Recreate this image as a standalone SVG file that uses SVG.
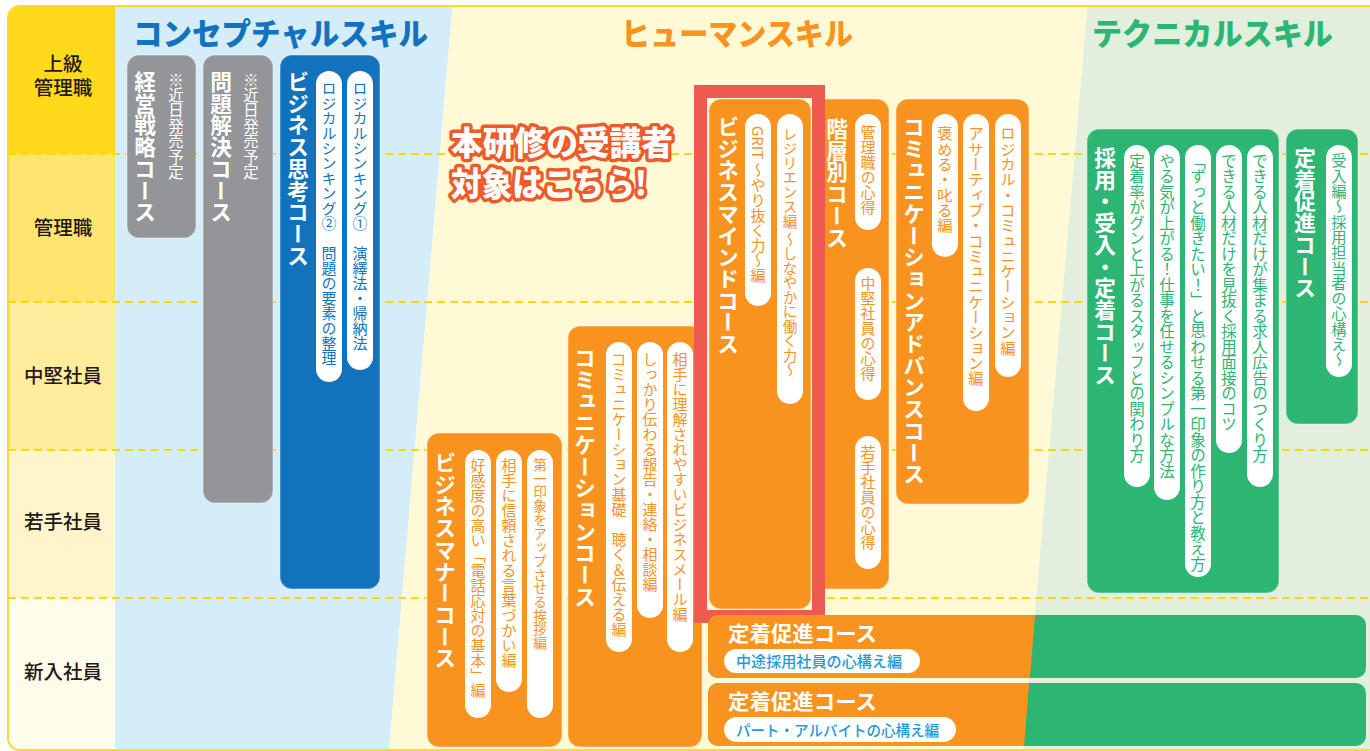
<svg xmlns="http://www.w3.org/2000/svg" width="1370" height="751" viewBox="0 0 1370 751">
<defs>
<style>
text{font-family:"Noto Sans CJK JP","Noto Sans CJK SC",sans-serif}
.v{writing-mode:vertical-rl}
.t{font-size:21.7px;font-weight:700;fill:#fff}
.note{font-size:15.4px;fill:#fff}
.pill{fill:#fff}
.po{fill:#F7931E;font-size:15px}
.pb{fill:#1273BC;font-size:15px}
.pg{fill:#2DB573;font-size:15.5px}
.gray{fill:#939598}
.blue{fill:#1273BC}
.orange{fill:#F7931E}
.green{fill:#2DB573}
.box{stroke:#ffffff;stroke-opacity:0.3;stroke-width:1.5}
.row{font-size:19.5px;font-weight:500;fill:#231815;text-anchor:middle}
.head{font-size:31px;font-weight:900}
.dash{stroke:#FFD800;stroke-width:2;stroke-dasharray:8 5;fill:none}
.bt{font-size:21px;font-weight:700;fill:#fff}
.bp{font-size:15px;fill:#1D9BD7;font-weight:500}
.call{font-size:33px;font-weight:900;fill:#fff;stroke:#EF5A2A;stroke-width:7;stroke-linejoin:round;paint-order:stroke}
</style>
<clipPath id="frame"><rect x="8" y="6" width="1400" height="744" rx="12"/></clipPath>
<clipPath id="bar1"><rect x="708" y="615" width="658" height="63" rx="10"/></clipPath>
<clipPath id="bar2"><rect x="708" y="683" width="658" height="63" rx="10"/></clipPath>
</defs>
<rect width="1370" height="751" fill="#fff"/>
<g id="background" clip-path="url(#frame)">
<polygon points="115,0 453,0 389,751 115,751" fill="#D5ECF9"/>
<polygon points="453,0 1088,0 1023,751 389,751" fill="#FFF9D5"/>
<polygon points="1088,0 1370,0 1370,751 1023,751" fill="#E2EFDC"/>
<rect x="8" y="6" width="107" height="148" fill="#FFDA1C"/>
<rect x="8" y="154" width="107" height="148" fill="#FFE56F"/>
<rect x="8" y="302" width="107" height="148" fill="#FFEC9C"/>
<rect x="8" y="450" width="107" height="148" fill="#FFF5CA"/>
<rect x="8" y="598" width="107" height="153" fill="#FFFCEC"/>
<line class="dash" x1="8" y1="154" x2="1370" y2="154"/>
<line class="dash" x1="8" y1="302" x2="1370" y2="302"/>
<line class="dash" x1="8" y1="450" x2="1370" y2="450"/>
<line class="dash" x1="8" y1="598" x2="1370" y2="598"/>
</g>
<rect x="8" y="6" width="1400" height="744" rx="12" fill="none" stroke="#FFD92E" stroke-width="2"/>
<g id="row-labels">
<text class="row"><tspan x="63" y="71">上級</tspan><tspan x="63" y="95">管理職</tspan></text>
<text class="row" x="63" y="235">管理職</text>
<text class="row" x="63" y="383">中堅社員</text>
<text class="row" x="63" y="529">若手社員</text>
<text class="row" x="63" y="679">新入社員</text>
</g>
<g id="headings">
<text class="head" x="133" y="45" fill="#1273BC" textLength="295" lengthAdjust="spacingAndGlyphs">コンセプチャルスキル</text>
<text class="head" x="621" y="45" fill="#F7931E" textLength="232" lengthAdjust="spacingAndGlyphs">ヒューマンスキル</text>
<text class="head" x="1092" y="45" fill="#2DB573" textLength="241" lengthAdjust="spacingAndGlyphs">テクニカルスキル</text>
</g>
<g id="keiei-senryaku">
<rect class="gray box" x="127" y="55" width="69" height="183" rx="12"/>
<text class="v t" x="145" y="71">経営戦略コース</text>
<text class="v note" x="176" y="72">※近日発売予定</text>
</g>
<g id="mondai-kaiketsu">
<rect class="gray box" x="203" y="55" width="70" height="448" rx="12"/>
<text class="v t" x="221" y="71">問題解決コース</text>
<text class="v note" x="251" y="72">※近日発売予定</text>
</g>
<g id="business-shikou">
<rect class="blue box" x="280" y="55" width="100" height="534" rx="12"/>
<text class="v t" x="298" y="71">ビジネス思考コース</text>
<rect class="pill" x="316" y="71" width="26" height="311" rx="13"/>
<text class="v pb" x="329" y="81">ロジカルシンキング②　問題の要素の整理</text>
<rect class="pill" x="347" y="71" width="26" height="299" rx="13"/>
<text class="v pb" x="360" y="81">ロジカルシンキング①　演繹法・帰納法</text>
</g>
<g id="callout">
<text class="call"><tspan x="451" y="155" textLength="222" lengthAdjust="spacingAndGlyphs">本研修の受講者</tspan><tspan x="451" y="196" textLength="196" lengthAdjust="spacingAndGlyphs">対象はこちら!</tspan></text>
</g>
<g id="business-manner">
<rect class="orange box" x="427" y="433" width="135" height="314" rx="12"/>
<text class="v t" x="445" y="452">ビジネスマナーコース</text>
<rect class="pill" x="465" y="450" width="26" height="268" rx="13"/>
<text class="v po" x="478" y="458">好感度の高い「電話応対の基本」編</text>
<rect class="pill" x="496" y="450" width="26" height="242" rx="13"/>
<text class="v po" x="509" y="458">相手に信頼される言葉づかい編</text>
<rect class="pill" x="527" y="450" width="26" height="268" rx="13"/>
<text class="v po" x="540" y="458" style="font-size:13.7px">第一印象をアップさせる挨拶編</text>
</g>
<g id="communication">
<rect class="orange box" x="568" y="326" width="134" height="421" rx="12"/>
<text class="v t" x="585" y="347">コミュニケーションコース</text>
<rect class="pill" x="606" y="342" width="26" height="310" rx="13"/>
<text class="v po" x="619" y="352">コミュニケーション基礎　聴く＆伝える編</text>
<rect class="pill" x="637" y="342" width="26" height="276" rx="13"/>
<text class="v po" x="650" y="352">しっかり伝わる報告・連絡・相談編</text>
<rect class="pill" x="667" y="342" width="26" height="310" rx="13"/>
<text class="v po" x="680" y="352">相手に理解されやすいビジネスメール編</text>
</g>
<g id="kaisoubetsu">
<rect class="orange box" x="815" y="99" width="74" height="490" rx="12"/>
<text class="v t" x="837" y="118">階層別コース</text>
<rect class="pill" x="855" y="114" width="26" height="116" rx="13"/>
<text class="v po" x="868" y="125">管理職の心得</text>
<rect class="pill" x="855" y="268" width="26" height="132" rx="13"/>
<text class="v po" x="868" y="276">中堅社員の心得</text>
<rect class="pill" x="855" y="436" width="26" height="133" rx="13"/>
<text class="v po" x="868" y="445">若手社員の心得</text>
</g>
<g id="communication-advance">
<rect class="orange box" x="896" y="99" width="133" height="405" rx="12"/>
<text class="v t" x="914" y="116">コミュニケーションアドバンスコース</text>
<rect class="pill" x="932" y="114" width="26" height="143" rx="13"/>
<text class="v po" x="945" y="126" style="font-size:15.3px">褒める・叱る編</text>
<rect class="pill" x="963" y="114" width="26" height="297" rx="13"/>
<text class="v po" x="976" y="126" style="font-size:15.3px">アサーティブ・コミュニケーション編</text>
<rect class="pill" x="995" y="114" width="26" height="263" rx="13"/>
<text class="v po" x="1008" y="126" style="font-size:15.3px">ロジカル・コミュニケーション編</text>
</g>
<g id="business-mind">
<rect x="700.5" y="91.5" width="118" height="525" fill="none" stroke="#EF5A50" stroke-width="13"/>
<rect class="orange box" x="709" y="99" width="102" height="510" rx="12"/>
<text class="v t" x="728" y="116">ビジネスマインドコース</text>
<rect class="pill" x="745" y="114" width="26" height="192" rx="13"/>
<text class="v po" x="758" y="126">GRIT ～やり抜く力～編</text>
<rect class="pill" x="777" y="114" width="26" height="290" rx="13"/>
<text class="v po" x="790" y="127" style="font-size:14.5px">レジリエンス編 ～しなやかに働く力～</text>
</g>
<g id="teichaku-chuto">
<rect class="green" x="708" y="615" width="658" height="63" rx="10"/>
<polygon class="orange" clip-path="url(#bar1)" points="700,610 1035.5,610 1029,690 700,690"/>
<text class="bt" x="728" y="641" textLength="149" lengthAdjust="spacingAndGlyphs">定着促進コース</text>
<rect class="pill" x="724" y="649" width="196" height="24" rx="12"/>
<text class="bp" x="736" y="667" textLength="166" lengthAdjust="spacingAndGlyphs">中途採用社員の心構え編</text>
</g>
<g id="teichaku-part">
<rect class="green" x="708" y="683" width="658" height="63" rx="10"/>
<polygon class="orange" clip-path="url(#bar2)" points="700,678 1029.5,678 1023,760 700,760"/>
<text class="bt" x="728" y="709" textLength="149" lengthAdjust="spacingAndGlyphs">定着促進コース</text>
<rect class="pill" x="724" y="717" width="232" height="25" rx="12.5"/>
<text class="bp" x="736" y="736" textLength="203" lengthAdjust="spacingAndGlyphs">パート・アルバイトの心構え編</text>
</g>
<g id="saiyou-ukeire-teichaku">
<rect class="green box" x="1087" y="129" width="192" height="464" rx="12"/>
<text class="v t" x="1105" y="147">採用・受入・定着コース</text>
<rect class="pill" x="1124" y="145" width="26" height="342" rx="13"/>
<text class="v pg" x="1137" y="153">定着率がグンと上がるスタッフとの関わり方</text>
<rect class="pill" x="1154" y="145" width="26" height="355" rx="13"/>
<text class="v pg" x="1167" y="153">やる気が上がる！仕事を任せるシンプルな方法</text>
<rect class="pill" x="1185" y="145" width="26" height="432" rx="13"/>
<text class="v pg" x="1198" y="153">「ずっと働きたい！」と思わせる第一印象の作り方と教え方</text>
<rect class="pill" x="1216" y="145" width="26" height="308" rx="13"/>
<text class="v pg" x="1229" y="153">できる人材だけを見抜く採用面接のコツ</text>
<rect class="pill" x="1247" y="145" width="26" height="342" rx="13"/>
<text class="v pg" x="1260" y="153">できる人材だけが集まる求人広告のつくり方</text>
</g>
<g id="teichaku-sokushin">
<rect class="green box" x="1286" y="129" width="72" height="295" rx="12"/>
<text class="v t" x="1305" y="147">定着促進コース</text>
<rect class="pill" x="1326" y="145" width="26" height="232" rx="13"/>
<text class="v pg" x="1339" y="153" style="font-size:15.3px">受入編～採用担当者の心構え～</text>
</g>
<g id="connectors"/>
</svg>
